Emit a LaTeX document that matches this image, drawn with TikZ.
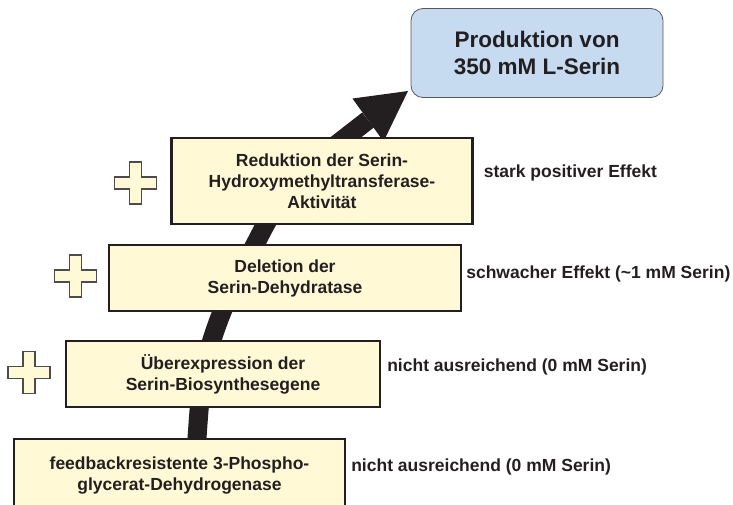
\documentclass[tikz,border=0pt]{standalone}
\usepackage{fontspec}
\setmainfont{Liberation Sans}
\usetikzlibrary{positioning, calc}

\definecolor{boxyellow}{HTML}{FFF9D5}
\definecolor{resultblue}{HTML}{C6DAF0}
\definecolor{inkblack}{HTML}{231F20}

\begin{document}
\begin{tikzpicture}[x=1pt, y=1pt,
		stepbox/.style={rectangle, draw=inkblack, line width=2.2pt, fill=boxyellow, align=center, inner sep=0pt, text=inkblack, font=\fontsize{17.5}{21}\selectfont\bfseries},
		resultbox/.style={rectangle, rounded corners=12pt, draw=gray!70!black, line width=0.8pt, fill=resultblue, align=center, minimum width=252pt, minimum height=89pt, text=inkblack, font=\fontsize{22.5}{27}\selectfont\bfseries},
		effect/.style={inner sep=0pt, text=inkblack, font=\fontsize{17.5}{21}\selectfont\bfseries},
		plusmark/.pic={\draw[draw=gray!60!black, line width=1.2pt, fill=boxyellow] (-6,21) -- (6,21) -- (6,6) -- (21,6) -- (21,-6) -- (6,-6) -- (6,-21) -- (-6,-21) -- (-6,-6) -- (-21,-6) -- (-21,6) -- (-6,6) -- cycle;}
	]
	\clip (0,0) rectangle (733,504);

	% big arrow behind the boxes
	\coordinate (tail) at (195,40);
	\coordinate (headbase) at (368,384);
	\coordinate (tip) at (408,413);
	\draw[inkblack, line width=19pt] (tail) to[out=85, in=250] (217,179) to[out=70, in=243] (261,271) to[out=63, in=218] (headbase);
	\fill[inkblack] ($(headbase)!26.5pt!90:(tip)$) -- (tip) -- ($(headbase)!26.5pt!-90:(tip)$) -- cycle;

	\node[resultbox] (result) at (537,451) {Produktion von\\350 mM L-Serin};

	\node[stepbox, minimum width=301pt, minimum height=86pt] (reduction) at (322,323) {Reduktion der Serin-\\Hydroxymethyltransferase-\\Aktivität};
	\node[stepbox, minimum width=352pt, minimum height=66pt] (deletion) at (285,226) {Deletion der\\Serin-Dehydratase};
	\node[stepbox, minimum width=314pt, minimum height=66pt] (overexp) at (223,130) {Überexpression der\\Serin-Biosynthesegene};
	\node[stepbox, minimum width=331pt, minimum height=74pt] (feedback) at (179.5,28) {feedbackresistente 3-Phospho-\\glycerat-Dehydrogenase};

	\node[effect, right=10pt of reduction, yshift=8pt] (effred) {stark positiver Effekt};
	\node[effect, right=4pt of deletion, yshift=4pt] (effdel) {schwacher Effekt (\textasciitilde1 mM Serin)};
	\node[effect, right=6pt of overexp, yshift=7pt] (effover) {nicht ausreichend (0 mM Serin)};
	\node[effect, right=5pt of feedback, yshift=9pt] (efffeed) {nicht ausreichend (0 mM Serin)};

	\foreach \p in {(135.5,321), (75.5,228), (29,131.5)}
		\pic at \p {plusmark};

\end{tikzpicture}
\end{document}
